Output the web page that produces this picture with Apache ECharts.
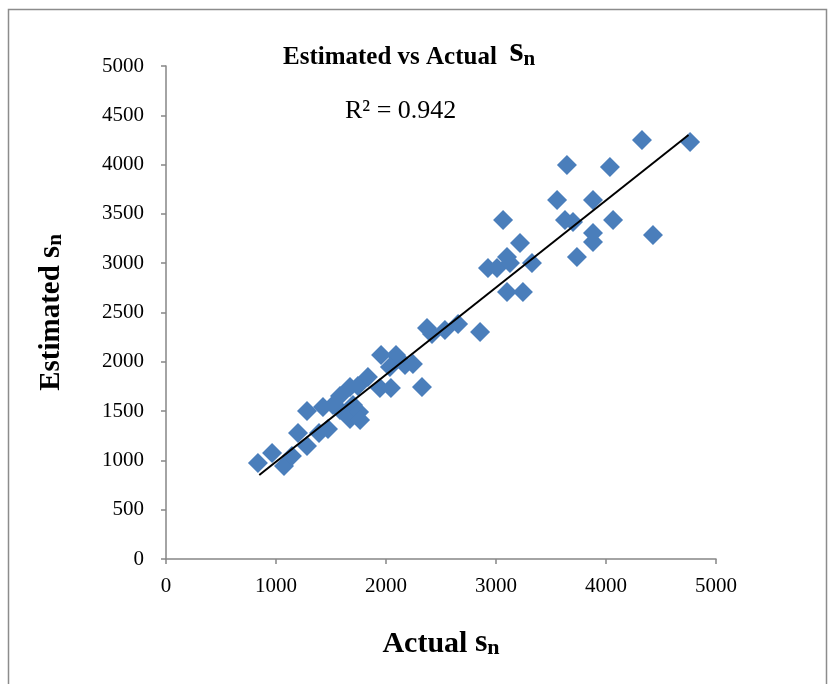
<!DOCTYPE html>
<html>
<head>
<meta charset="utf-8">
<script src="https://cdn.jsdelivr.net/npm/echarts@6/dist/echarts.min.js"></script>
<style>
  html, body { margin: 0; padding: 0; background: #fff; }
  #grafico { width: 831px; height: 684px; }
</style>
</head>
<body>
<div id="grafico"></div>
<script>
// Datos (Actual s_n vs Estimated s_n)
const actual = [
    836, 964, 1073, 1145, 1200, 1282, 1282, 1391, 1473, 1427,
    1518, 1582, 1582, 1673, 1700, 1755, 1764, 1745, 1836, 1673,
    1955, 2091, 1945, 2045, 2036, 2173, 2245, 2327,
    2373, 2418, 2536, 2655, 2855,
    2927, 3009, 3100, 3245, 3100, 3127, 3218, 3327, 3064, 3736,
    3555, 3627, 3700, 3882, 3882, 3882, 4064, 3645, 4036, 4327,
    4764, 4427
];
const estimado = [
    974, 1075, 943, 1045, 1278, 1146, 1501, 1278, 1318, 1542,
    1562, 1653, 1511, 1420, 1562, 1491, 1410, 1755, 1846, 1744,
    2069, 2069, 1734, 1734, 1947, 1968, 1978, 1744,
    2343, 2282, 2323, 2383, 2302,
    2951, 2951, 2708, 2708, 3063, 3002, 3205, 3002, 3438, 3063,
    3641, 3438, 3418, 3641, 3306, 3215, 3438, 3996, 3976, 4250,
    4229, 3286
];
// Extremos de la línea de tendencia
const tendenciaX = [848, 4750];
const tendenciaY = [852, 4300];
const r2Texto = 'R² = 0.942';

const serif = "'Liberation Serif', 'Times New Roman', serif";

const puntos = actual.map((x, i) => [x, estimado[i]]);
const lineaTendencia = tendenciaX.map((x, i) => [x, tendenciaY[i]]);

// estilos de texto con subíndice
function richNombre(tam, tamS, tamN, alto, bajada) {
    return {
        a: { fontFamily: serif, fontWeight: 'bold', fontSize: tam, color: '#000', lineHeight: alto, verticalAlign: 'bottom' },
        s: { fontFamily: serif, fontWeight: 'bold', fontSize: tamS, color: '#000', lineHeight: alto, verticalAlign: 'bottom' },
        n: { fontFamily: serif, fontWeight: 'bold', fontSize: tamN, color: '#000', lineHeight: alto, verticalAlign: 'bottom', padding: [bajada, 0, 0, 0] }
    };
}

const chart = echarts.init(document.getElementById('grafico'));
chart.setOption({
    backgroundColor: '#fff',
    animation: false,
    title: {
        text: '{a|Estimated vs Actual  }{s|s}{n|n}',
        left: 278,
        top: 29,
        textStyle: { rich: richNombre(25, 36, 21, 36, 14) }
    },
    graphic: [
        {
            type: 'rect',
            shape: { x: 8.5, y: 9.5, width: 818, height: 700 },
            style: { fill: 'none', stroke: '#8c8c8c', lineWidth: 1.5 },
            silent: true
        },
        {
            type: 'text',
            left: 345,
            top: 98,
            style: { text: r2Texto, font: "26px " + serif, fill: '#000' }
        }
    ],
    grid: { left: 166, right: 115, top: 66, bottom: 125 },
    xAxis: {
        type: 'value',
        min: 0,
        max: 5000,
        interval: 1000,
        name: '{a|Actual }{s|s}{n|n}',
        nameLocation: 'middle',
        nameGap: 64,
        nameTextStyle: { rich: richNombre(30, 32, 22, 36, 14) },
        axisLine: { show: true, lineStyle: { color: '#868686', width: 1.5 } },
        axisTick: { show: true, length: 5, lineStyle: { color: '#868686', width: 1.5 } },
        axisLabel: { fontFamily: serif, fontSize: 21, color: '#000', margin: 17, formatter: v => String(v) },
        splitLine: { show: false }
    },
    yAxis: {
        type: 'value',
        min: 0,
        max: 5000,
        interval: 500,
        name: '{a|Estimated }{s|s}{n|n}',
        nameLocation: 'middle',
        nameRotate: 90,
        nameGap: 100,
        nameTextStyle: { rich: richNombre(29, 31, 21, 36, 14) },
        axisLine: { show: true, lineStyle: { color: '#868686', width: 1.5 } },
        axisTick: { show: true, length: 5, lineStyle: { color: '#868686', width: 1.5 } },
        axisLabel: { fontFamily: serif, fontSize: 21, color: '#000', margin: 22, formatter: v => String(v) },
        splitLine: { show: false }
    },
    series: [
        {
            name: 'Datos',
            type: 'scatter',
            symbol: 'diamond',
            symbolSize: 20,
            itemStyle: { color: '#4a7ebb', opacity: 1 },
            data: puntos,
            z: 2
        },
        {
            name: 'Tendencia',
            type: 'line',
            data: lineaTendencia,
            symbol: 'none',
            lineStyle: { color: '#000', width: 2 },
            z: 3
        }
    ]
});
</script>
</body>
</html>
